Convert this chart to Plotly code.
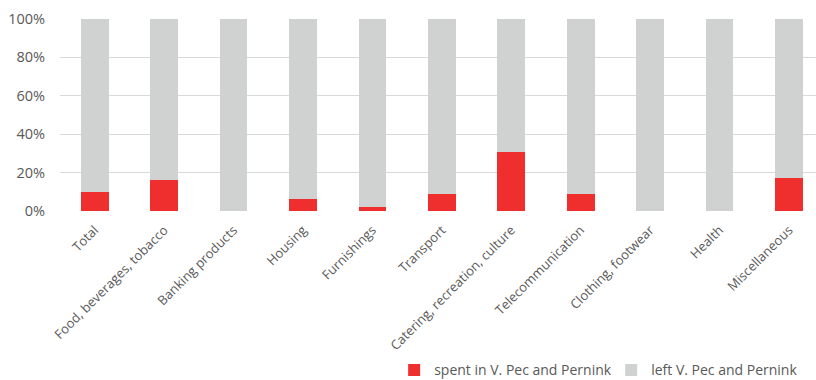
import plotly.graph_objects as go

categories = [
    "Total", "Food, beverages, tobacco", "Banking products", "Housing",
    "Furnishings", "Transport", "Catering, recreation, culture",
    "Telecommunication", "Clothing, footwear", "Health", "Miscellaneous",
]
spent_local = [9.7, 16.1, 0.0, 6.2, 2.2, 8.6, 30.8, 9.0, 0.0, 0.0, 17.0]
left_local = [100 - v for v in spent_local]
y_ticks = [0, 20, 40, 60, 80, 100]
y_tick_labels = [f"{t}%" for t in y_ticks]

RED = "#EE2F2E"
GREY = "#D0D2D1"
TEXT = "#595959"
FONT = "Open Sans"

fig = go.Figure()
fig.add_trace(go.Bar(
    x=list(range(len(categories))), y=spent_local,
    name="spent in V. Pec and Pernink", marker=dict(color=RED, line=dict(width=0)),
))
fig.add_trace(go.Bar(
    x=list(range(len(categories))), y=left_local,
    name="left V. Pec and Pernink", marker=dict(color=GREY, line=dict(width=0)),
))

fig.update_layout(
    width=816, height=380,
    barmode="stack", bargap=0.6,
    margin=dict(l=60, r=0, t=19, b=169, autoexpand=False),
    plot_bgcolor="white", paper_bgcolor="white",
    font=dict(family=FONT, size=14, color=TEXT),
    showlegend=True,
    legend=dict(
        orientation="h", x=0.442, y=-0.83, xanchor="left", yanchor="middle",
        font=dict(size=14, color=TEXT), traceorder="normal",
        entrywidth=172, itemwidth=30,
    ),
    xaxis=dict(
        range=[-0.5, 10.39], automargin=False,
        tickmode="array", tickvals=list(range(len(categories))), ticktext=categories,
        tickangle=-45, showgrid=False, zeroline=False, showline=False, ticks="",
        ticklabelstandoff=8,
        tickfont=dict(size=13, color=TEXT),
    ),
    yaxis=dict(
        range=[0, 100], automargin=False,
        tickmode="array", tickvals=y_ticks, ticktext=y_tick_labels,
        showgrid=True, gridcolor="#D9D9D9", gridwidth=1, zeroline=False,
        showline=False, ticks="", ticklabelstandoff=14,
        tickfont=dict(size=14.5, color=TEXT),
    ),
)

fig.write_html("out.html")
